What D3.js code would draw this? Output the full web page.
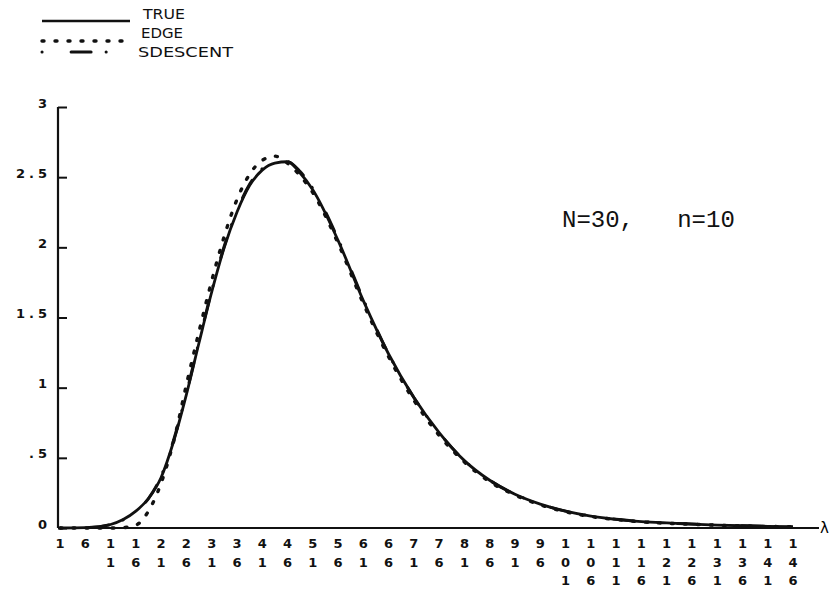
<!DOCTYPE html>
<html>
<head>
<meta charset="utf-8">
<script src="https://cdn.jsdelivr.net/npm/d3@7"></script>
<style>
  body { margin: 0; background: #fff; }
  svg { display: block; }
  .tick-lbl { font-family: "DejaVu Sans", sans-serif; font-weight: bold; font-size: 13px; fill: #111; }
  .leg { font-family: "DejaVu Sans", sans-serif; font-size: 14px; fill: #111; }
</style>
</head>
<body>
<div id="chart"></div>
<script>
// lambda grid and the three curves
const lambda = [1, 6, 11, 13.5, 16, 18.5, 21, 23.5, 26, 28.5, 31, 33.5, 36, 38.5, 41, 43.5, 46, 48.5, 51,
  56, 61, 66, 71, 76, 81, 86, 91, 96, 101, 106, 111, 116, 121, 126, 131, 136, 141, 146]
const trueVals = [0, 0.002, 0.025, 0.06, 0.12, 0.21, 0.36, 0.62, 0.95, 1.32, 1.68, 2.0, 2.25, 2.44, 2.55, 2.6, 2.61, 2.53, 2.41,
  2.05, 1.62, 1.24, 0.93, 0.68, 0.48, 0.34, 0.24, 0.17, 0.12, 0.085, 0.062, 0.046, 0.036, 0.028, 0.021, 0.016, 0.012, 0.01]
const edgeVals = [0, 0, 0, 0.003, 0.02, 0.12, 0.32, 0.62, 1.02, 1.4, 1.76, 2.08, 2.34, 2.52, 2.62, 2.65, 2.6, 2.51, 2.39,
  2.03, 1.6, 1.22, 0.91, 0.66, 0.47, 0.33, 0.235, 0.165, 0.115, 0.082, 0.06, 0.044, 0.034, 0.027, 0.02, 0.015, 0.011, 0.009]
const sdescentVals = [0, 0.002, 0.024, 0.058, 0.118, 0.21, 0.37, 0.63, 0.96, 1.33, 1.69, 2.01, 2.26, 2.45, 2.56, 2.61, 2.61, 2.54, 2.42,
  2.06, 1.63, 1.24, 0.93, 0.68, 0.48, 0.34, 0.24, 0.17, 0.12, 0.085, 0.062, 0.046, 0.036, 0.028, 0.021, 0.016, 0.012, 0.01]

const xTicks = d3.range(1, 147, 5)          // 1, 6, 11 ... 146
const yTicks = [0, 0.5, 1, 1.5, 2, 2.5, 3]
const yTickLabels = ["0", ".5", "1", "1.5", "2", "2.5", "3"]

const legendItems = [
  {name: "TRUE", dash: null, w: 2.5, len: 42},
  {name: "EDGE", dash: "2 11", w: 3.4, len: 42},
  {name: "SDESCENT", dash: "0.1 29 20 15", w: 3, len: 95}
]

const width = 831, height = 594

const x = d3.scaleLinear().domain([1, 146]).range([60, 793])
const y = d3.scaleLinear().domain([0, 3]).range([528, 107])

const svg = d3.select("#chart").append("svg")
  .attr("width", width)
  .attr("height", height)

// axes
const axisX0 = 58
svg.append("line")
  .attr("x1", axisX0).attr("x2", axisX0)
  .attr("y1", y(3)).attr("y2", y(0))
  .attr("stroke", "#111").attr("stroke-width", 2.2)
svg.append("line")
  .attr("x1", axisX0).attr("x2", 819)
  .attr("y1", y(0)).attr("y2", y(0))
  .attr("stroke", "#111").attr("stroke-width", 2.2)

// y ticks point inward
const yAxis = d3.axisRight(y).tickValues(yTicks).tickSize(9).tickFormat("")
svg.append("g")
  .attr("transform", `translate(${axisX0},0)`)
  .call(yAxis)
  .call(g => g.select(".domain").remove())
  .call(g => g.selectAll(".tick line").attr("stroke", "#111").attr("stroke-width", 2))

svg.append("g").selectAll("text")
  .data(yTicks)
  .enter().append("text")
  .attr("class", "tick-lbl")
  .attr("x", 51)
  .attr("y", d => y(d) - 3)
  .attr("text-anchor", "end")
  .attr("dominant-baseline", "middle")
  .attr("letter-spacing", 4)
  .text((d, i) => yTickLabels[i])

// x tick labels, digits stacked vertically
const rowY = [544, 563, 581]
const xl = svg.append("g").selectAll("g")
  .data(xTicks)
  .enter().append("g")
xl.selectAll("text")
  .data(d => String(d).split("").map(ch => ({ch, v: d})))
  .enter().append("text")
  .attr("class", "tick-lbl")
  .attr("x", d => x(d.v))
  .attr("y", (d, i) => rowY[i])
  .attr("text-anchor", "middle")
  .attr("dominant-baseline", "middle")
  .text(d => d.ch)

svg.append("text")
  .attr("x", 820).attr("y", y(0) + 5)
  .attr("font-family", "DejaVu Sans, sans-serif")
  .attr("font-size", 15)
  .text("λ")

// curves
const line = vals => d3.line()
  .x((d, i) => x(lambda[i]))
  .y(d => y(d))
  .curve(d3.curveMonotoneX)(vals)

svg.append("path")
  .attr("d", line(sdescentVals))
  .attr("fill", "none").attr("stroke", "#111").attr("stroke-width", 3)
  .attr("stroke-linecap", "round").attr("stroke-dasharray", "0.1 29 20 15")
svg.append("path")
  .attr("d", line(trueVals))
  .attr("fill", "none").attr("stroke", "#111").attr("stroke-width", 2.8)
svg.append("path")
  .attr("d", line(edgeVals))
  .attr("fill", "none").attr("stroke", "#111").attr("stroke-width", 3.4)
  .attr("stroke-linecap", "round").attr("stroke-dasharray", "2 11")

// annotation
svg.append("text")
  .attr("x", 562).attr("y", 227)
  .attr("font-family", "Liberation Mono, monospace")
  .attr("font-size", 24)
  .attr("fill", "#111")
  .style("white-space", "pre")
  .text("N=30,   n=10")

// legend
const leg = svg.append("g").selectAll("g")
  .data(legendItems)
  .enter().append("g")
leg.append("line")
  .attr("x1", 42).attr("x2", 130)
  .attr("y1", (d, i) => [21, 41, 52][i])
  .attr("y2", (d, i) => [21, 41, 52][i])
  .attr("stroke", "#111")
  .attr("stroke-width", d => d.w)
  .attr("stroke-linecap", d => d.dash ? "round" : "butt")
  .attr("stroke-dasharray", d => d.dash)
leg.append("text")
  .attr("class", "leg")
  .attr("x", (d, i) => [143, 141, 138][i])
  .attr("y", (d, i) => [19, 38, 57][i])
  .attr("textLength", d => d.len)
  .attr("lengthAdjust", "spacingAndGlyphs")
  .text(d => d.name)
</script>
</body>
</html>
